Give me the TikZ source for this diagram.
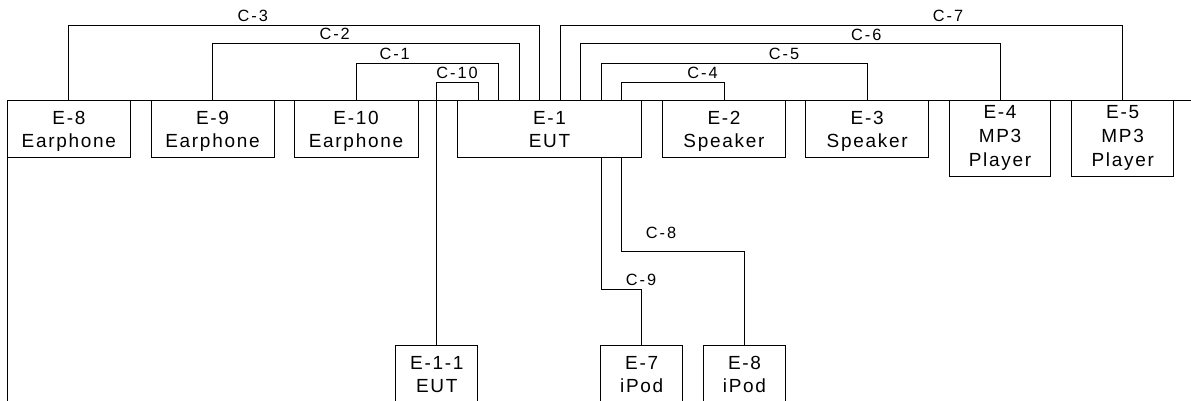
\documentclass[tikz,border=0pt]{standalone}
\usepackage{fontspec}
\setmainfont{Liberation Sans}
\newfontfamily\boxf{Liberation Sans}[LetterSpace=9]
\newfontfamily\labf{Liberation Sans}[LetterSpace=12]
\usetikzlibrary{calc}
\begin{document}
\begin{tikzpicture}[x=1pt,y=-1pt,line width=1pt,
  eq/.style={draw,font=\boxf\fontsize{19}{23}\selectfont,align=center,inner sep=0pt,
    minimum height=57pt,text height=41pt,text depth=3pt},
  eqt/.style={draw,font=\boxf\fontsize{19}{24}\selectfont,align=center,inner sep=0pt,
    minimum height=76pt,text height=62pt,text depth=5pt},
  lab/.style={font=\labf\fontsize{16.3}{18}\selectfont,anchor=base,inner sep=0pt}]
\useasboundingbox (0,0) rectangle (1191,400);
\clip (0,0) rectangle (1191,400);
% frame
\coordinate (fA) at (7,402);
\coordinate (fB) at (7,100);
\coordinate (fC) at (1195,100);
\draw (fA) -- (fB) -- (fC);
% equipment
\node[eq,minimum width=123.7pt] (E8) at (68.9,128.5) {E-8\\Earphone};
\node[eq,minimum width=123pt] (E9) at (212.5,128.5) {E-9\\Earphone};
\node[eq,minimum width=124pt] (E10) at (356,128.5) {E-10\\Earphone};
\node[eq,minimum width=184.4pt] (E1) at (549.5,128.5) {E-1\\EUT};
\node[eq,minimum width=123.4pt] (E2) at (724,128.5) {E-2\\Speaker};
\node[eq,minimum width=123pt] (E3) at (867.2,128.5) {E-3\\Speaker};
\node[eqt,minimum width=101.4pt] (E4) at (1000,138) {E-4\\MP3\\Player};
\node[eqt,minimum width=102pt] (E5) at (1122.7,138) {E-5\\MP3\\Player};
\node[eq,minimum width=81.7pt] (E11) at (436.8,373.5) {E-1-1\\EUT};
\node[eq,minimum width=82pt] (E7) at (641.7,373.5) {E-7\\iPod};
\node[eq,minimum width=82.4pt] (E8b) at (744.5,373.5) {E-8\\iPod};
% connection points on E-1
\coordinate (a10) at ($(E1.north)+(-71.2,0)$);
\coordinate (a1) at ($(E1.north)+(-50.8,0)$);
\coordinate (a2) at ($(E1.north)+(-30.5,0)$);
\coordinate (a3) at ($(E1.north)+(-10.2,0)$);
\coordinate (a7) at ($(E1.north)+(10.5,0)$);
\coordinate (a6) at ($(E1.north)+(30.8,0)$);
\coordinate (a5) at ($(E1.north)+(51.5,0)$);
\coordinate (a4) at ($(E1.north)+(72.2,0)$);
\coordinate (b9) at ($(E1.south)+(51.5,0)$);
\coordinate (b8) at ($(E1.south)+(72.2,0)$);
% levels
\coordinate (L1) at (0,25.7);
\coordinate (L2) at (0,43.7);
\coordinate (L3) at (0,63.3);
\coordinate (L4) at (0,82);
\coordinate (L8) at (0,251);
\coordinate (L9) at (0,289);
% cables
\draw (E8.north) |- (a3 |- L1) -- (a3);
\draw (E9.north) |- (a2 |- L2) -- (a2);
\draw (E10.north) |- (a1 |- L3) -- (a1);
\draw (E11.north) |- (a10 |- L4) -- (a10);
\draw (a7) |- (E5.north |- L1) -- (E5.north);
\draw (a6) |- (E4.north |- L2) -- (E4.north);
\draw (a5) |- (E3.north |- L3) -- (E3.north);
\draw (a4) |- (E2.north |- L4) -- (E2.north);
\draw (b9) |- (E7.north |- L9) -- (E7.north);
\draw (b8) |- (E8b.north |- L8) -- (E8b.north);
% labels
\node[lab] (c3) at (252.8,21.7) {C-3};
\node[lab] (c2) at (334.7,39.3) {C-2};
\node[lab] (c1) at (394.7,59.3) {C-1};
\node[lab] (c10) at (457,78.3) {C-10};
\node[lab] (c4) at (702.5,78.3) {C-4};
\node[lab] (c5) at (784,59.3) {C-5};
\node[lab] (c6) at (866.3,40) {C-6};
\node[lab] (c7) at (948,21.7) {C-7};
\node[lab] (c8) at (661,238.3) {C-8};
\node[lab] (c9) at (641,285) {C-9};
\end{tikzpicture}
\end{document}
